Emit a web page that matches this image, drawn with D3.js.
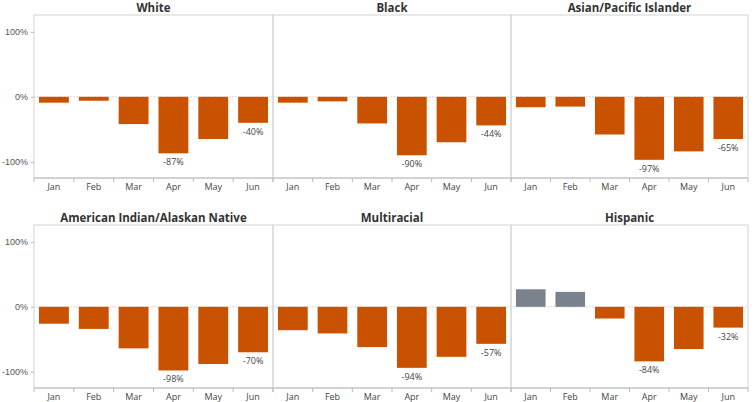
<!DOCTYPE html>
<html>
<head>
<meta charset="utf-8">
<script src="https://cdn.jsdelivr.net/npm/d3@7"></script>
<style>
  body { margin: 0; background: #fff; font-family: "Open Sans", "Noto Sans", sans-serif; }
  .title { font-weight: bold; font-size: 11.5px; fill: #333; }
  .tick text { fill: #555; font-size: 9px; }
  .lbl { fill: #444; font-size: 9px; }
</style>
</head>
<body>
<script>
// data, percent change vs last year
const months = ['Jan', 'Feb', 'Mar', 'Apr', 'May', 'Jun'];
const groups = ['White', 'Black', 'Asian/Pacific Islander', 'American Indian/Alaskan Native', 'Multiracial', 'Hispanic'];
const white = [-9, -6, -42, -87, -65, -40];
const black = [-9, -7, -41, -90, -70, -44];
const asian = [-16, -15, -58, -97, -84, -65];
const aian = [-26, -34, -64, -98, -88, -70];
const multi = [-36, -41, -62, -94, -77, -57];
const hispanic = [27, 23, -18, -84, -65, -32];
const yTicks = [100, 0, -100];
const labelled = ['Apr', 'Jun']; // only these get a text label

const series = [white, black, asian, aian, multi, hispanic];

const W = 755, H = 402;
const svg = d3.select('body').append('svg').attr('width', W).attr('height', H);

const colEdges = [34, 273, 511, 748];
const rows = [{top: 15, bot: 178}, {top: 225, bot: 388}];

const y0 = d3.scaleLinear().domain([-125, 126]);

groups.forEach(function(name, i) {
  const r = Math.floor(i / 3), c = i % 3;
  const x0 = colEdges[c], x1 = colEdges[c + 1];
  const row = rows[r];
  const x = d3.scaleBand().domain(months).range([x0, x1]).paddingInner(0.25).paddingOuter(0.125);
  const y = y0.copy().range([row.bot, row.top]);
  const g = svg.append('g');

  // panel frame
  g.append('rect').attr('x', x0).attr('y', row.top).attr('width', x1 - x0).attr('height', row.bot - row.top)
    .attr('fill', 'none').attr('stroke', '#d4d4d4').attr('stroke-width', 1);

  // zero line
  g.append('line').attr('x1', x0).attr('x2', x1).attr('y1', y(0)).attr('y2', y(0))
    .attr('stroke', '#e3d6cc').attr('stroke-width', 1).attr('stroke-dasharray', '2,1');

  g.append('text').attr('class', 'title').attr('x', (x0 + x1) / 2).attr('y', row.top - 3)
    .attr('text-anchor', 'middle').text(name);

  if (c === 0) {
    const ya = d3.axisLeft(y).tickValues(yTicks).tickSize(3).tickFormat(d => d + '%');
    g.append('g').attr('transform', 'translate(' + x0 + ',0)').call(ya)
      .call(s => s.select('.domain').remove())
      .call(s => s.selectAll('.tick line').attr('stroke', '#bbb'));
  }

  // x axis with ticks at band edges
  const xa = g.append('g').attr('transform', 'translate(0,' + row.bot + ')');
  xa.append('line').attr('x1', x0).attr('x2', x1).attr('stroke', '#bbb');
  const step = x.step();
  const edges = months.map(m => x(m) - x.paddingInner() * step / 2).concat([x1]);
  xa.selectAll('.edge').data(edges).enter().append('line')
    .attr('x1', d => d).attr('x2', d => d).attr('y1', 0).attr('y2', 4).attr('stroke', '#bbb');
  xa.selectAll('.m').data(months).enter().append('text')
    .attr('class', 'lbl').attr('x', d => x(d) + x.bandwidth() / 2).attr('y', 12)
    .attr('text-anchor', 'middle').attr('fill', '#555').text(d => d);

  const data = months.map((m, k) => ({m: m, v: series[i][k]}));
  g.selectAll('.bar').data(data).enter().append('rect')
    .attr('x', d => x(d.m)).attr('width', x.bandwidth())
    .attr('y', d => y(Math.max(0, d.v))).attr('height', d => Math.abs(y(d.v) - y(0)))
    .attr('fill', d => d.v >= 0 ? '#7a828e' : '#c85200');

  g.selectAll('.val').data(data.filter(d => labelled.includes(d.m))).enter().append('text')
    .attr('class', 'lbl').attr('x', d => x(d.m) + x.bandwidth() / 2).attr('y', d => y(d.v) + 12)
    .attr('text-anchor', 'middle').text(d => d.v + '%');
});
</script>
</body>
</html>
